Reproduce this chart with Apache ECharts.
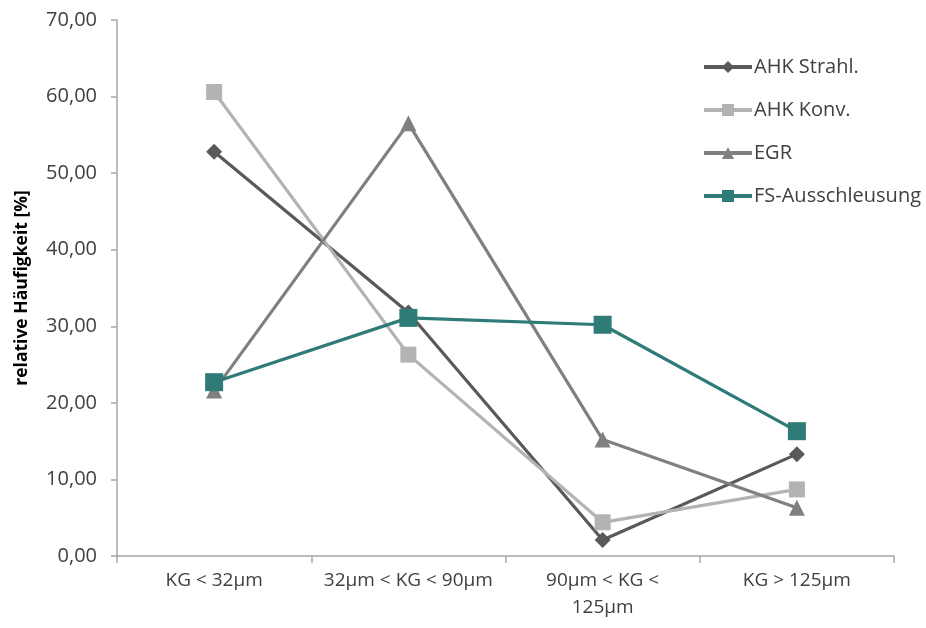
<!DOCTYPE html>
<html>
<head>
<meta charset="utf-8">
<script src="https://cdn.jsdelivr.net/npm/echarts@6/dist/echarts.min.js"></script>
<style>html,body{margin:0;padding:0;background:#fff}#c{width:926px;height:628px}</style>
</head>
<body>
<div id="c"></div>
<script>
const categories = ['KG < 32µm', '32µm < KG < 90µm', '90µm < KG <\n125µm', 'KG > 125µm'];
const ahkStrahl = [52.8, 31.8, 2.1, 13.3];
const ahkKonv = [60.6, 26.3, 4.4, 8.7];
const egr = [21.6, 56.5, 15.2, 6.3];
const fsAus = [22.7, 31.1, 30.2, 16.3];
const yTicks = [0, 10, 20, 30, 40, 50, 60, 70];

const chart = echarts.init(document.getElementById('c'));
const font = '"Open Sans", "Liberation Sans", sans-serif';
function mk(name, data, color, symbol, size) {
  return {
    name: name, type: 'line', data: data, symbol: symbol, symbolSize: size,
    lineStyle: { color: color, width: 3.2 },
    itemStyle: { color: color },
    emphasis: { disabled: true }, animation: false
  };
}
chart.setOption({
  animation: false,
  textStyle: { fontFamily: font },
  grid: { left: 117, right: 32, top: 20, bottom: 72, containLabel: false },
  legend: {
    orient: 'vertical', left: 697, top: 52, itemWidth: 48, itemHeight: 15, itemGap: 23,
    lineStyle: { width: 4 },
    textStyle: { fontFamily: font, fontSize: 20, color: '#404040', padding: [0, 0, 0, -3] },
    data: ['AHK Strahl.', 'AHK Konv.', 'EGR', 'FS-Ausschleusung']
  },
  xAxis: {
    type: 'category', data: categories, boundaryGap: true,
    axisLine: { lineStyle: { color: '#a6a6a6', width: 1.5 } },
    axisTick: { show: true, length: 7, lineStyle: { color: '#a6a6a6', width: 1.5 } },
    axisLabel: { color: '#404040', fontSize: 19, fontFamily: font, margin: 11, lineHeight: 27, interval: 0 }
  },
  yAxis: {
    type: 'value', min: yTicks[0], max: yTicks[yTicks.length - 1], interval: 10,
    name: 'relative Häufigkeit [%]', nameLocation: 'middle', nameGap: 86, nameRotate: 90,
    nameTextStyle: { fontWeight: 'bold', fontSize: 17.5, color: '#000', fontFamily: font },
    axisLine: { show: true, lineStyle: { color: '#a6a6a6', width: 1.5 } },
    axisTick: { show: true, length: 6, lineStyle: { color: '#a6a6a6', width: 1.5 } },
    splitLine: { show: false },
    axisLabel: { color: '#404040', fontSize: 20, fontFamily: font, margin: 20,
      formatter: v => v.toFixed(2).replace('.', ',') }
  },
  series: [
    mk('AHK Strahl.', ahkStrahl, '#595959', 'diamond', 16),
    mk('AHK Konv.', ahkKonv, '#b3b3b3', 'rect', 16),
    mk('EGR', egr, '#808080', 'triangle', 16),
    mk('FS-Ausschleusung', fsAus, '#2e7b78', 'rect', 18)
  ]
});
</script>
</body>
</html>
